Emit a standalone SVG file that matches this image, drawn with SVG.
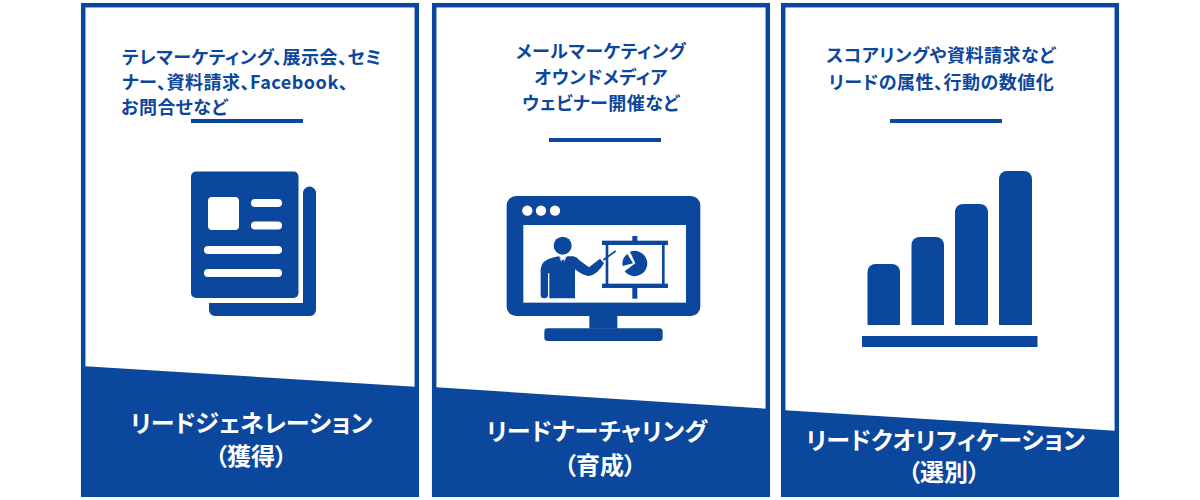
<svg xmlns="http://www.w3.org/2000/svg" width="1200" height="500" viewBox="0 0 1200 500">
<style>
.frame{fill:#fff;stroke:#0b479c;stroke-width:4.5}
.b{fill:#0b479c}
.w{fill:#fff}
text{font-family:"Noto Sans CJK JP","Noto Sans",sans-serif;font-weight:700;font-feature-settings:"palt"}
.d{fill:#0b479c;font-size:18px;letter-spacing:.5px}
.m{text-anchor:middle}
.t{fill:#fff;font-size:24px;text-anchor:middle}
</style>
<rect width="1200" height="500" fill="#fff"/>
<g id="panel-generation">
<rect class="frame" x="83.200" y="5.200" width="333.600" height="489.600"/>
<polygon class="b" points="81,366 419,387 419,497 81,497"/>
<text class="d" x="122" y="64">テレマーケティング、展示会、セミ</text>
<text class="d" x="122" y="89">ナー、資料請求、Facebook、</text>
<text class="d" x="121" y="114">お問合せなど</text>
<rect class="b" x="191" y="119" width="112" height="4"/>
<path class="b" d="M209 303H303V193a6.500 6.500 0 0 1 13 0V310a6 6 0 0 1-6 6H215a6 6 0 0 1-6-6Z"/>
<rect class="b" x="191" y="171.500" width="107.500" height="126.500" rx="5"/>
<rect class="w" x="208" y="197" width="31" height="33" rx="4"/>
<rect class="w" x="251" y="199" width="31" height="8" rx="4"/>
<rect class="w" x="251" y="221.500" width="31" height="8" rx="4"/>
<rect class="w" x="204" y="246" width="78" height="8" rx="4"/>
<rect class="w" x="204" y="269" width="78" height="8" rx="4"/>
<text class="t" x="251.500" y="432">リードジェネレーション</text>
<text class="t" x="251" y="465">（獲得）</text>
</g>
<g id="panel-nurturing">
<rect class="frame" x="434.200" y="5.200" width="333.600" height="489.600"/>
<polygon class="b" points="432,387 770,409 770,497 432,497"/>
<text class="d m" x="601" y="58">メールマーケティング</text>
<text class="d m" x="601" y="84">オウンドメディア</text>
<text class="d m" x="601" y="110">ウェビナー開催など</text>
<rect class="b" x="549" y="138" width="112" height="4"/>
<g transform="translate(490 180) scale(.3333)">
<rect class="b" x="50" y="48" width="581" height="360" rx="28"/>
<rect class="w" x="100" y="135" width="488" height="233"/>
<circle class="w" cx="112" cy="92" r="15.500"/><circle class="w" cx="153" cy="92" r="15.500"/><circle class="w" cx="195" cy="92" r="15.500"/>
<path class="b" d="M298 408L298 446H382L382 408Z"/>
<rect class="b" x="163" y="445" width="355" height="38" rx="10"/>
<circle class="b" cx="218" cy="197" r="27"/>
<path class="b" d="M152 345V268Q154 240 192 232L207 229L218 240L232 229L250 229Q260 230 270 242L297 262L330 236L342 250Q322 285 297 288Q280 288 255 268V355H178V280H174V345Q174 355 163 355Q152 355 152 345Z"/>
<path class="w" d="M208 232L218 240L229 232L222 246H214Z"/>
<path class="b" d="M215 240H222L226 264L218 274L211 264Z"/>
<path d="M340 240L377 213" stroke="#0b479c" stroke-width="5" fill="none"/>
<rect class="b" x="336" y="182" width="198" height="13"/>
<rect class="b" x="336" y="311" width="198" height="13"/>
<rect class="b" x="347" y="190" width="8" height="125"/>
<rect class="b" x="516" y="190" width="8" height="125"/>
<rect class="b" x="427" y="168" width="15" height="16"/>
<rect class="b" x="427" y="322" width="15" height="34"/>
<path class="b" d="M420 215A38 38 0 1 1 404 274L436 250Z"/>
<path class="b" d="M412 222A37 37 0 0 0 398 258L429 250Z"/>
</g>
<text class="t" x="597" y="440" style="letter-spacing:.3px">リードナーチャリング</text>
<text class="t" x="600" y="474">（育成）</text>
</g>
<g id="panel-qualification">
<rect class="frame" x="783.200" y="5.200" width="333.600" height="489.600"/>
<polygon class="b" points="781,410 1119,431 1119,497 781,497"/>
<text class="d m" x="941" y="62">スコアリングや資料請求など</text>
<text class="d m" x="941.500" y="89">リードの属性、行動の数値化</text>
<rect class="b" x="890" y="119" width="112" height="4"/>
<path class="b" d="M867.500 325V272a8 8 0 0 1 8-8H892a8 8 0 0 1 8 8V325Z"/>
<path class="b" d="M911.500 325V245a8 8 0 0 1 8-8H936a8 8 0 0 1 8 8V325Z"/>
<path class="b" d="M955 325V212a8 8 0 0 1 8-8H980a8 8 0 0 1 8 8V325Z"/>
<path class="b" d="M999 325V179a8 8 0 0 1 8-8H1024a8 8 0 0 1 8 8V325Z"/>
<rect class="b" x="862" y="336" width="175.500" height="11"/>
<text class="t" x="945.500" y="448.500">リードクオリフィケーション</text>
<text class="t" x="944" y="481">（選別）</text>
</g>
</svg>
